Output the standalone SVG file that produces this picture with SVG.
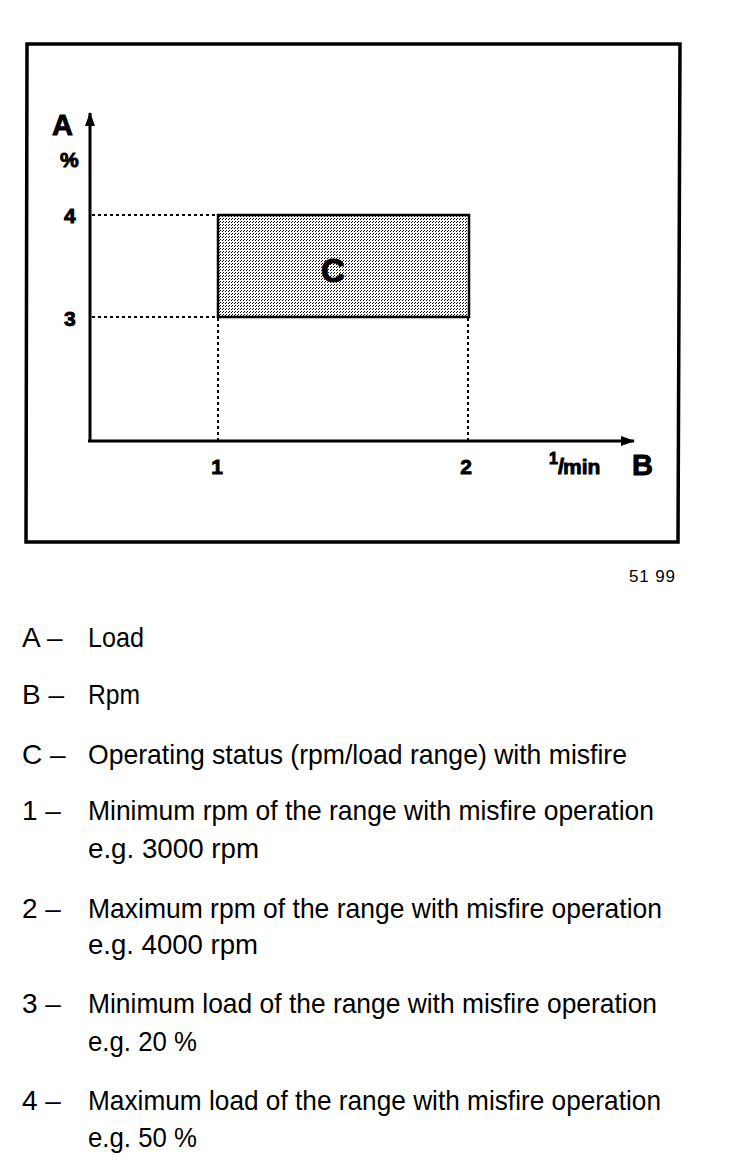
<svg xmlns="http://www.w3.org/2000/svg" width="736" height="1170" viewBox="0 0 736 1170">
<style>
.b{font-family:"Liberation Sans",Arial,sans-serif;font-weight:bold;fill:#000;stroke:#000;stroke-width:0.9}
.l{font-family:"Liberation Sans",Arial,sans-serif;font-size:28px;fill:#000}
.dot{stroke:#000;stroke-width:2;stroke-dasharray:3 3;fill:none}
</style>
<defs>
<pattern id="stip" width="3" height="3" patternUnits="userSpaceOnUse">
<rect width="3" height="3" fill="#fff"/>
<rect width="1" height="1" fill="#000"/>
<rect x="1" y="2" width="1" height="1" fill="#000"/>
</pattern>
<marker id="ah" viewBox="0 0 14 10" refX="13" refY="5" markerWidth="14" markerHeight="10" markerUnits="userSpaceOnUse" orient="auto">
<path d="M0,0 L14,5 L0,10 Z" fill="#000"/>
</marker>
</defs>
<rect width="736" height="1170" fill="#fff"/>
<g id="frame">
<path d="M27,44 L680,44 L678,542 L26,542 Z" fill="none" stroke="#000" stroke-width="3.5"/>
</g>
<g id="region-C">
<rect x="218" y="215" width="251" height="102" fill="url(#stip)" stroke="#000" stroke-width="2.5"/>
<text class="b" x="333" y="282" font-size="33" text-anchor="middle">C</text>
</g>
<g id="connectors">
<line class="dot" x1="92" y1="215" x2="218" y2="215"/>
<line class="dot" x1="92" y1="317" x2="218" y2="317"/>
<line class="dot" x1="218" y1="318" x2="218" y2="440"/>
<line class="dot" x1="468" y1="318" x2="468" y2="440"/>
<line x1="90" y1="441" x2="90" y2="113" stroke="#000" stroke-width="3" marker-end="url(#ah)"/>
<line x1="88" y1="441" x2="634" y2="441" stroke="#000" stroke-width="3" marker-end="url(#ah)"/>
</g>
<g id="axis-A">
<text class="b" x="52" y="135" font-size="29">A</text>
<text class="b" x="60" y="167" font-size="21">%</text>
</g>
<g id="tick-4"><text class="b" x="64" y="223" font-size="21">4</text></g>
<g id="tick-3"><text class="b" x="64" y="326" font-size="21">3</text></g>
<g id="tick-1"><text class="b" x="217" y="474" font-size="21" text-anchor="middle">1</text></g>
<g id="tick-2"><text class="b" x="466" y="474" font-size="21" text-anchor="middle">2</text></g>
<g id="axis-B">
<text class="b" x="549" y="474"><tspan font-size="16" dy="-10">1</tspan><tspan font-size="22" dy="10">/</tspan><tspan font-size="21" dx="-1">min</tspan></text>
<text class="b" x="632" y="475" font-size="29">B</text>
</g>
<g id="ref">
<text x="629" y="582" font-family="Liberation Sans,Arial,sans-serif" font-size="17" textLength="46" lengthAdjust="spacing">51 99</text>
</g>
<g id="legend">
<text class="l" x="22" y="647">A –</text>
<text class="l" x="88" y="647" textLength="56" lengthAdjust="spacingAndGlyphs">Load</text>
<text class="l" x="22" y="704">B –</text>
<text class="l" x="88" y="704" textLength="52" lengthAdjust="spacingAndGlyphs">Rpm</text>
<text class="l" x="22" y="764">C –</text>
<text class="l" x="88" y="764" textLength="539" lengthAdjust="spacingAndGlyphs">Operating status (rpm/load range) with misfire</text>
<text class="l" x="22" y="820">1 –</text>
<text class="l" x="88" y="820" textLength="566" lengthAdjust="spacingAndGlyphs">Minimum rpm of the range with misfire operation</text>
<text class="l" x="88" y="858" textLength="171" lengthAdjust="spacingAndGlyphs">e.g. 3000 rpm</text>
<text class="l" x="22" y="918">2 –</text>
<text class="l" x="88" y="918" textLength="574" lengthAdjust="spacingAndGlyphs">Maximum rpm of the range with misfire operation</text>
<text class="l" x="88" y="954" textLength="170" lengthAdjust="spacingAndGlyphs">e.g. 4000 rpm</text>
<text class="l" x="22" y="1013">3 –</text>
<text class="l" x="88" y="1013" textLength="569" lengthAdjust="spacingAndGlyphs">Minimum load of the range with misfire operation</text>
<text class="l" x="88" y="1051" textLength="109" lengthAdjust="spacingAndGlyphs">e.g. 20 %</text>
<text class="l" x="22" y="1110">4 –</text>
<text class="l" x="88" y="1110" textLength="573" lengthAdjust="spacingAndGlyphs">Maximum load of the range with misfire operation</text>
<text class="l" x="88" y="1147" textLength="109" lengthAdjust="spacingAndGlyphs">e.g. 50 %</text>
</g>
</svg>
